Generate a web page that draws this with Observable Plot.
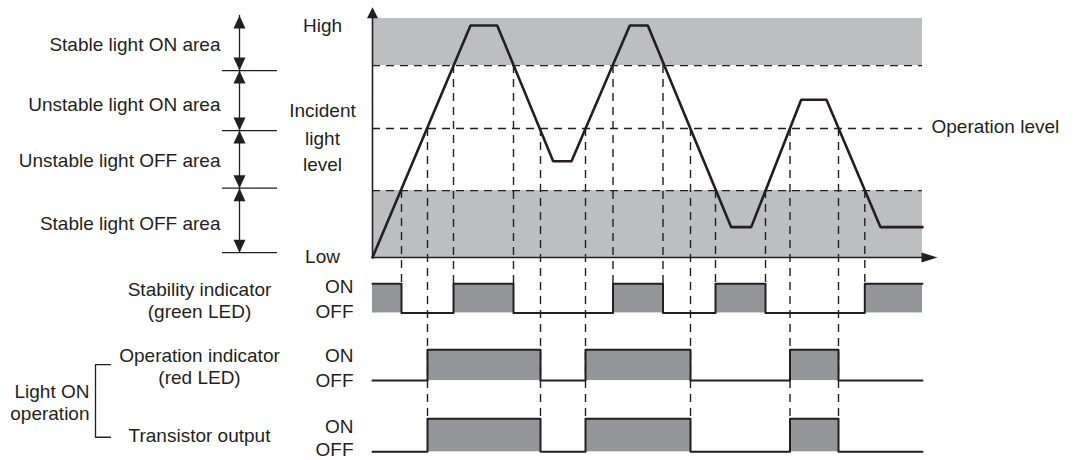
<!DOCTYPE html>
<html>
<head>
<meta charset="utf-8">
<script src="https://cdn.jsdelivr.net/npm/d3@7"></script>
<script src="https://cdn.jsdelivr.net/npm/@observablehq/plot@0.6"></script>
<style>
  html, body { margin: 0; padding: 0; background: #ffffff; }
  #chart { width: 1078px; height: 460px; overflow: hidden; }
</style>
</head>
<body>
<div id="chart"></div>
<script>
// ---------------- DATA ----------------
// Incident light level waveform (time units, level in % of "High")
const lightTime  = [0, 98, 124.7, 180.7, 199, 257.3, 275.3, 358.7, 378.7, 428.7, 454, 508, 550];
const lightLevel = [0, 97.1, 97.1, 40.3, 40.3, 97.1, 97.1, 12.7, 12.7, 66, 66, 12.7, 12.7];

// Threshold levels (% of High)
const thresholdNames  = ["Stable OFF threshold", "Operation level", "Stable ON threshold"];
const thresholdLevels = [28, 54, 80.3];
const highLevel = 100;

// Stable areas (shaded bands)
const bandLow  = [0, 80.3];
const bandHigh = [28, 100];

// Stability indicator (green LED): state changes
const stabilityTimes  = [0, 29, 81, 141, 240.5, 290.5, 343, 393, 492.3, 550];
const stabilityStates = [1, 0, 1, 0, 1, 0, 1, 0, 1, 1];
const stabilityEdgeTimes  = [29, 81, 141, 240.5, 290.5, 343, 393, 492.3];
const stabilityEdgeLevels = [28, 80.3, 80.3, 80.3, 80.3, 28, 28, 28];

// Operation indicator (red LED): state changes
const operationTimes  = [0, 55, 168, 213, 318, 417.5, 466, 550];
const operationStates = [0, 1, 0, 1, 0, 1, 0, 0];

// Transistor output: state changes
const transistorTimes  = [0, 55, 168, 213, 318, 417.5, 466, 550];
const transistorStates = [0, 1, 0, 1, 0, 1, 0, 0];

// Operation-level crossings (connector lines)
const operationEdgeTimes = [55, 168, 213, 318, 417.5, 466];

// Left annotation: area names and their boundaries
const areaLabels = ["Stable light ON area", "Unstable light ON area", "Unstable light OFF area", "Stable light OFF area"];
const areaLabelLevels = [89.0, 63.9, 40.3, 14.1];
const areaBounds = [101.3, 78.2, 53.1, 29.0, 2.0];

// Axis labels
const axisLabels = ["High", "Incident", "light", "level", "Low"];
const axisLabelLevels = [96.7, 61.5, 49.8, 38.7, 0.2];

// Signal row labels
const rowLabels = ["Stability indicator", "(green LED)", "Operation indicator", "(red LED)", "Transistor output"];
const stateLabels = ["ON", "OFF", "ON", "OFF", "ON", "OFF"];
const groupLabels = ["Light ON", "operation"];
const operationLevelLabel = "Operation level";

// ---------------- LAYOUT (level units below the chart) ----------------
const rows = {
  stability:  {on: -11.0, off: -23.2},
  operation:  {on: -38.6, off: -51.5},
  transistor: {on: -67.5, off: -81.3}
};
const rowLabelLevels = [-13.4, -22.6, -41.2, -50.2, -74.5];
const stateLabelLevels = [-12.4, -22.9, -41.0, -51.5, -71.0, -80.6];
const groupLabelLevels = [-56.3, -65.6];

const ink = "#231f20";
const bandFill = "#bcbec0";
const signalFill = "#939598";
const font = "'Liberation Sans', Arial, Helvetica, sans-serif";
const dash = "8,6";

// ---------------- helpers ----------------
function arrowHead(len, wid) {
  return {draw(ctx) { ctx.moveTo(0, 0); ctx.lineTo(wid / 2, len); ctx.lineTo(-wid / 2, len); ctx.closePath(); }};
}
function onIntervals(times, states) {
  const out = [];
  for (let i = 0; i < times.length - 1; i++) if (states[i]) out.push({x1: times[i], x2: times[i + 1]});
  return out;
}
function stepPoints(times, states, row) {
  return times.map((t, i) => ({t, v: states[i] ? row.on : row.off}));
}

const wave = lightTime.map((t, i) => ({t, L: lightLevel[i]}));
const bands = bandLow.map((l, i) => ({y1: l, y2: bandHigh[i]}));
const stabEdges = stabilityEdgeTimes.map((t, i) => ({t, L: stabilityEdgeLevels[i]}));
const opEdges = operationEdgeTimes.map(t => ({t, L: thresholdLevels[1]}));

const signals = [
  [stabilityTimes, stabilityStates, rows.stability],
  [operationTimes, operationStates, rows.operation],
  [transistorTimes, transistorStates, rows.transistor]
];

// left annotation arrowheads: tips at each bound, pointing outward of each segment
const annArrows = [];
for (let i = 0; i < areaBounds.length - 1; i++) {
  annArrows.push({L: areaBounds[i], rot: 0});
  annArrows.push({L: areaBounds[i + 1], rot: 180});
}

const textOpts = {fontSize: 19, fill: ink, lineAnchor: "middle", fontFamily: font};

const chart = Plot.plot({
  width: 1078,
  height: 460,
  marginLeft: 372,
  marginRight: 156,
  marginTop: 18,
  marginBottom: 203,
  x: {domain: [0, 550], axis: null},
  y: {domain: [0, highLevel], axis: null},
  style: {fontFamily: font, background: "#ffffff", overflow: "visible"},
  marks: [
    // stable areas
    Plot.rect(bands, {x1: 0, x2: 550, y1: "y1", y2: "y2", fill: bandFill}),
    // threshold dashed lines
    Plot.ruleY(thresholdLevels, {x1: 0, x2: 550, stroke: ink, strokeWidth: 1.4, strokeDasharray: dash}),
    // connectors
    Plot.ruleX(stabEdges, {x: "t", y1: "L", y2: rows.stability.on, stroke: ink, strokeWidth: 1.4, strokeDasharray: dash}),
    Plot.ruleX(opEdges, {x: "t", y1: "L", y2: rows.transistor.on, stroke: ink, strokeWidth: 1.4, strokeDasharray: dash}),
    // signal fills and step lines
    ...signals.map(([times, states, row]) =>
      Plot.rect(onIntervals(times, states), {x1: "x1", x2: "x2", y1: row.off, y2: row.on, fill: signalFill})),
    ...signals.map(([times, states, row]) =>
      Plot.line(stepPoints(times, states, row), {x: "t", y: "v", curve: "step-after", stroke: ink, strokeWidth: 2})),
    // waveform
    Plot.line(wave, {x: "t", y: "L", stroke: ink, strokeWidth: 2.6, strokeLinejoin: "miter"}),
    // axes
    Plot.ruleX([0], {y1: 0, y2: 101, stroke: ink, strokeWidth: 1.6}),
    Plot.ruleY([0], {x1: 0, x2: 551, stroke: ink, strokeWidth: 1.6}),
    Plot.dot([0], {x: 0, y: highLevel + 4.7, symbol: arrowHead(11, 11), fill: ink, stroke: "none"}),
    Plot.dot([0], {x: 565, y: 0, symbol: arrowHead(16, 10), rotate: 90, fill: ink, stroke: "none"}),
    // left annotation
    Plot.ruleX([-133], {y1: areaBounds[0], y2: areaBounds[areaBounds.length - 1], stroke: ink, strokeWidth: 1.3}),
    Plot.ruleY(areaBounds.slice(1), {x1: -150, x2: -95, stroke: ink, strokeWidth: 1.3}),
    Plot.dot(annArrows, {x: -133, y: "L", rotate: "rot", symbol: arrowHead(13, 12), fill: ink, stroke: "none"}),
    Plot.text(areaLabels, {...textOpts, x: -152, y: (d, i) => areaLabelLevels[i], textAnchor: "end"}),
    Plot.text(axisLabels, {...textOpts, x: -50, y: (d, i) => axisLabelLevels[i], textAnchor: "middle"}),
    Plot.text([operationLevelLabel], {...textOpts, x: 559, y: thresholdLevels[1] + 0.5, textAnchor: "start"}),
    // row labels
    Plot.text(rowLabels, {...textOpts, x: -173, y: (d, i) => rowLabelLevels[i], textAnchor: "middle"}),
    Plot.text(stateLabels, {...textOpts, x: -19, y: (d, i) => stateLabelLevels[i], textAnchor: "end"}),
    Plot.text(groupLabels, {...textOpts, x: -283, y: (d, i) => groupLabelLevels[i], textAnchor: "end"}),
    // bracket
    Plot.line([{t: -262, v: -44.8}, {t: -277, v: -44.8}, {t: -277, v: -75.2}, {t: -262, v: -75.2}],
      {x: "t", y: "v", stroke: ink, strokeWidth: 1.3})
  ]
});

document.getElementById("chart").appendChild(chart);
</script>
</body>
</html>
